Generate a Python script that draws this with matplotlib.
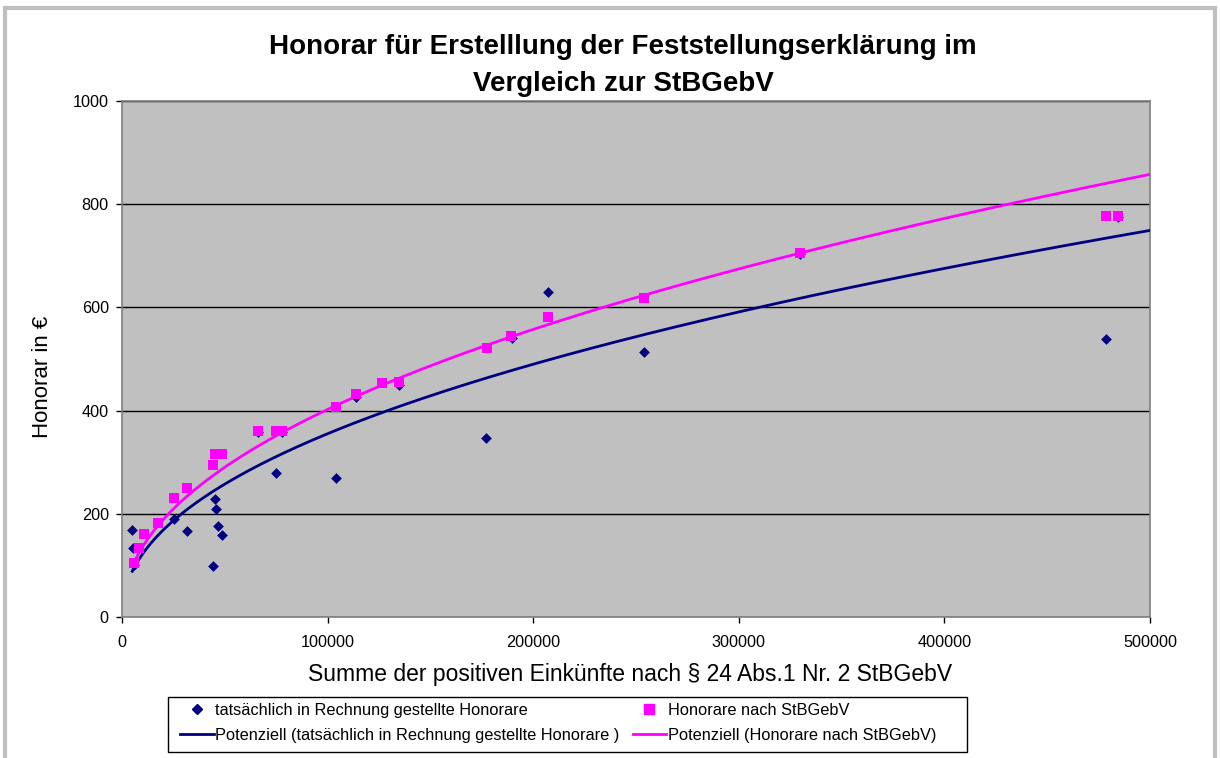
import numpy as np
import matplotlib
matplotlib.use("Agg")
import matplotlib.pyplot as plt
from matplotlib.lines import Line2D
from matplotlib.patches import Rectangle

plt.rcParams['font.family'] = ['Liberation Sans', 'DejaVu Sans']

# Data (x = Summe der positiven Einkünfte, y = Honorar in €)
actual_x = [5000, 5500, 6000, 25500, 31500, 44500, 45000, 45500, 46500, 48500,
            66000, 75000, 78000, 104000, 114000, 134500, 177000, 189500,
            207000, 254000, 330000, 478500, 484500]
actual_y = [169, 134, 101, 190, 167, 99, 229, 209, 176, 159,
            358, 279, 358, 269, 426, 450, 347, 541,
            630, 513, 703, 539, 775]

stb_x = [6000, 8500, 10500, 17500, 25500, 31500, 44500, 45000, 48500, 66000,
         75000, 78000, 104000, 114000, 126500, 134500, 177500, 189000,
         207000, 254000, 330000, 478500, 484500]
stb_y = [105, 134, 161, 182, 231, 250, 294, 316, 316, 360,
         360, 360, 407, 432, 453, 455, 521, 545,
         581, 618, 705, 777, 777]

# Power trend lines y = a * x^b (coefficients)
trend_actual = (1.706, 0.4637)
trend_stb = (1.782, 0.4707)
trend_x_end = 500000

x_ticks = [0, 100000, 200000, 300000, 400000, 500000]
y_ticks = [0, 200, 400, 600, 800, 1000]

title_lines = ["Honorar für Erstelllung der Feststellungserklärung im",
               "Vergleich zur StBGebV"]
xlabel = "Summe der positiven Einkünfte nach § 24 Abs.1 Nr. 2 StBGebV"
ylabel = "Honorar in €"
labels = ["tatsächlich in Rechnung gestellte Honorare",
          "Honorare nach StBGebV",
          "Potenziell (tatsächlich in Rechnung gestellte Honorare )",
          "Potenziell (Honorare nach StBGebV)"]

NAVY = "#000080"
MAGENTA = "#FF00FF"

W, H = 1220, 758
fig = plt.figure(figsize=(W / 100, H / 100), dpi=100)
fig.patch.set_facecolor("white")
# outer frame
fig.add_artist(Rectangle((5 / W, -0.05), 1210 / W, 1 - 8 / H + 0.05, transform=fig.transFigure,
                         fill=False, edgecolor="#BFBFBF", linewidth=3))

ax = fig.add_axes([122 / W, 1 - 617 / H, 1028 / W, 516 / H])
ax.set_facecolor("#C0C0C0")
for s in ax.spines.values():
    s.set_color("#808080")
    s.set_linewidth(1.2)

ax.set_xlim(0, 500000)
ax.set_ylim(0, 1000)
ax.set_xticks(x_ticks)
ax.set_yticks(y_ticks)
ax.set_xticklabels([str(t) for t in x_ticks])
ax.set_yticklabels([str(t) for t in y_ticks])
ax.tick_params(direction="out", length=4, width=1, color="black", labelsize=11.7)
ax.tick_params(axis="x", pad=9)
ax.tick_params(axis="y", pad=5.5)
ax.grid(axis="y", color="black", linewidth=1)
ax.set_axisbelow(True)

# trend lines (power)
xx = np.linspace(min(actual_x), trend_x_end, 600)
ax.plot(xx, trend_actual[0] * xx ** trend_actual[1], color=NAVY, linewidth=2, zorder=3)
xx2 = np.linspace(min(stb_x), trend_x_end, 600)
ax.plot(xx2, trend_stb[0] * xx2 ** trend_stb[1], color=MAGENTA, linewidth=2, zorder=3)

ax.scatter(actual_x, actual_y, marker="D", s=30, color=NAVY, zorder=4, linewidths=0)
ax.scatter(stb_x, stb_y, marker="s", s=45, color=MAGENTA, zorder=5, linewidths=0)

fig.text(623 / W, 1 - 47 / H, title_lines[0], ha="center", va="center",
         fontsize=20, fontweight="bold")
fig.text(623 / W, 1 - 84 / H, title_lines[1], ha="center", va="center",
         fontsize=20, fontweight="bold")
fig.text(630 / W, 1 - 674 / H, xlabel, ha="center", va="center", fontsize=16.5)
fig.text(43 / W, 1 - 377 / H, ylabel, ha="center", va="center", fontsize=16,
         rotation=90)

# legend box drawn separately to get the wide horizontal padding
fig.add_artist(Rectangle((168 / W, 1 - 752 / H), 799 / W, 55 / H, transform=fig.transFigure,
                         facecolor="white", edgecolor="black", linewidth=1, zorder=1))
h = [
    Line2D([], [], marker="D", color=NAVY, linestyle="none", markersize=5.5),
    Line2D([], [], marker="s", color=MAGENTA, linestyle="none", markersize=6.5),
    Line2D([], [], color=NAVY, linewidth=2),
    Line2D([], [], color=MAGENTA, linewidth=2),
]
order = [0, 2, 1, 3]
leg = fig.legend([h[i] for i in order], [labels[i] for i in order], ncol=2, loc="upper left",
                 bbox_to_anchor=(180 / W, 1 - 703 / H),
                 frameon=False, fontsize=11.8,
                 handlelength=2.05, handletextpad=0.1, columnspacing=0.8,
                 borderpad=0, labelspacing=0.6, borderaxespad=0)
leg.set_zorder(2)

fig.savefig("out.png", dpi=100)
